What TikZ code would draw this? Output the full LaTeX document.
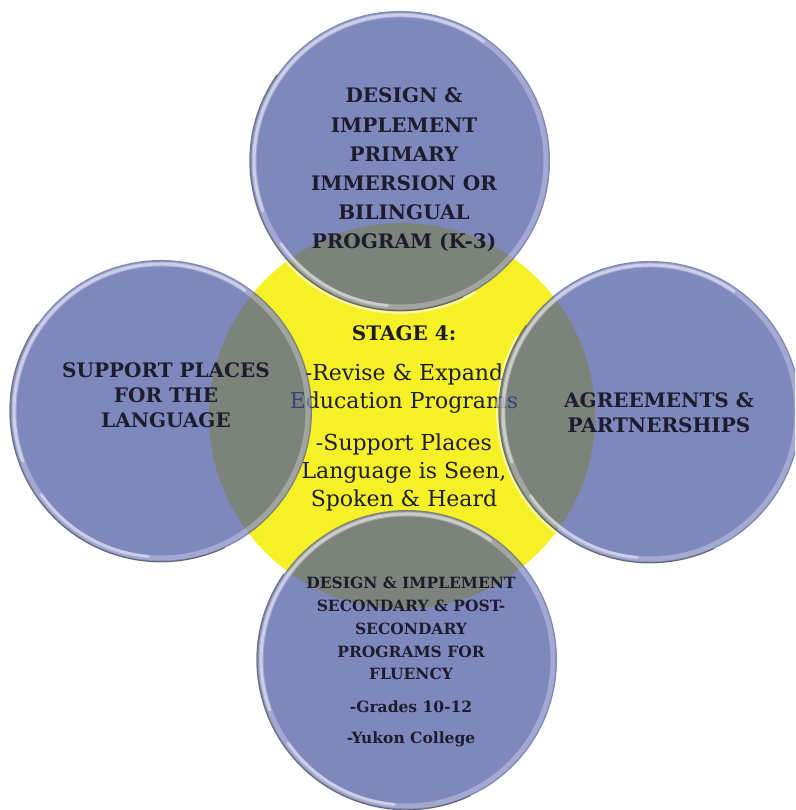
\documentclass[tikz,border=0pt]{standalone}
\usepackage{fontspec}
\setmainfont{DejaVu Serif}
\definecolor{hubyellow}{RGB}{246,241,38}
\definecolor{bubblebase}{RGB}{70,83,160}
\definecolor{inkdark}{RGB}{28,28,44}
\begin{document}
\begin{tikzpicture}[x=1pt,y=1pt,
  hub/.style={circle, inner sep=0pt, minimum size=386pt, fill=hubyellow},
  bubble/.style={circle, inner sep=0pt, minimum size=#1, fill=bubblebase, fill opacity=0.69},
  rimdark/.style={draw=black!70, line width=1pt, opacity=0.75},
  rimglow/.style={draw=white, line width=3pt, opacity=0.55},
  rimlight/.style={draw=white, line width=5pt, opacity=0.28},
  rimshine/.style={draw=white, line width=3pt, opacity=0.45, line cap=round},
  hubtext/.style={align=center, inner sep=0pt, text=inkdark, font=\fontsize{22}{28}\selectfont},
  captext/.style={align=center, inner sep=0pt, text=inkdark, font=\bfseries\fontsize{#1}{#1}\selectfont},
]
\useasboundingbox (0,0) rectangle (795,810);
\clip (0,0) rectangle (795,810);

% central yellow disc and its text, lying under the bubbles
\node[hub] (hubdisc) at (402,394) {};
\node[hubtext] (hubtxt) at (404,392)
  {{\bfseries\fontsize{20}{28}\selectfont STAGE 4:}\\[12pt]
   -Revise \& Expand\\
   Education Programs\\[14pt]
   -Support Places\\
   Language is Seen,\\
   Spoken \& Heard};

% four translucent bubbles
\node[bubble=300pt] (btop)    at (400,649) {};
\node[bubble=302pt] (bleft)   at (161,399) {};
\node[bubble=302pt] (bright)  at (650,398) {};
\node[bubble=300pt] (bbottom) at (407,150) {};

% glassy rims
\foreach \b/\r in {btop/150, bleft/151, bright/151, bbottom/150}{
  \draw[rimglow]  ([shift={(150:\r pt+1.5pt)}]\b.center) arc[start angle=150, end angle=300, radius=\r pt+1.5pt];
  \draw[rimdark]  (\b.145) arc[start angle=145, end angle=295, radius=\r pt];
  \draw[rimlight] (\b.center) circle[radius=\r pt-4pt];
  \draw[rimshine] ([shift={(55:\r pt-4pt)}]\b.center) arc[start angle=55, end angle=200, radius=\r pt-4pt];
  \draw[rimshine] ([shift={(215:\r pt-5pt)}]\b.center) arc[start angle=215, end angle=265, radius=\r pt-5pt];
}

% bubble captions
\node[captext=20, font=\bfseries\fontsize{20}{29.2}\selectfont] (ttop) at (404,640)
  {DESIGN \&\\IMPLEMENT\\PRIMARY\\IMMERSION OR\\BILINGUAL\\PROGRAM (K-3)};
\node[captext=20, font=\bfseries\fontsize{20}{25}\selectfont] (tleft) at (166,415)
  {SUPPORT PLACES\\FOR THE\\LANGUAGE};
\node[captext=20, font=\bfseries\fontsize{20}{25}\selectfont] (tright) at (659,397)
  {AGREEMENTS \&\\PARTNERSHIPS};
\node[captext=15.5, font=\bfseries\fontsize{15.5}{22.75}\selectfont] (tbottom) at (411,148)
  {DESIGN \& IMPLEMENT\\SECONDARY \& POST-\\SECONDARY\\PROGRAMS FOR\\FLUENCY\\[10pt]
   -Grades 10-12\\[8pt]-Yukon College};
\end{tikzpicture}
\end{document}
